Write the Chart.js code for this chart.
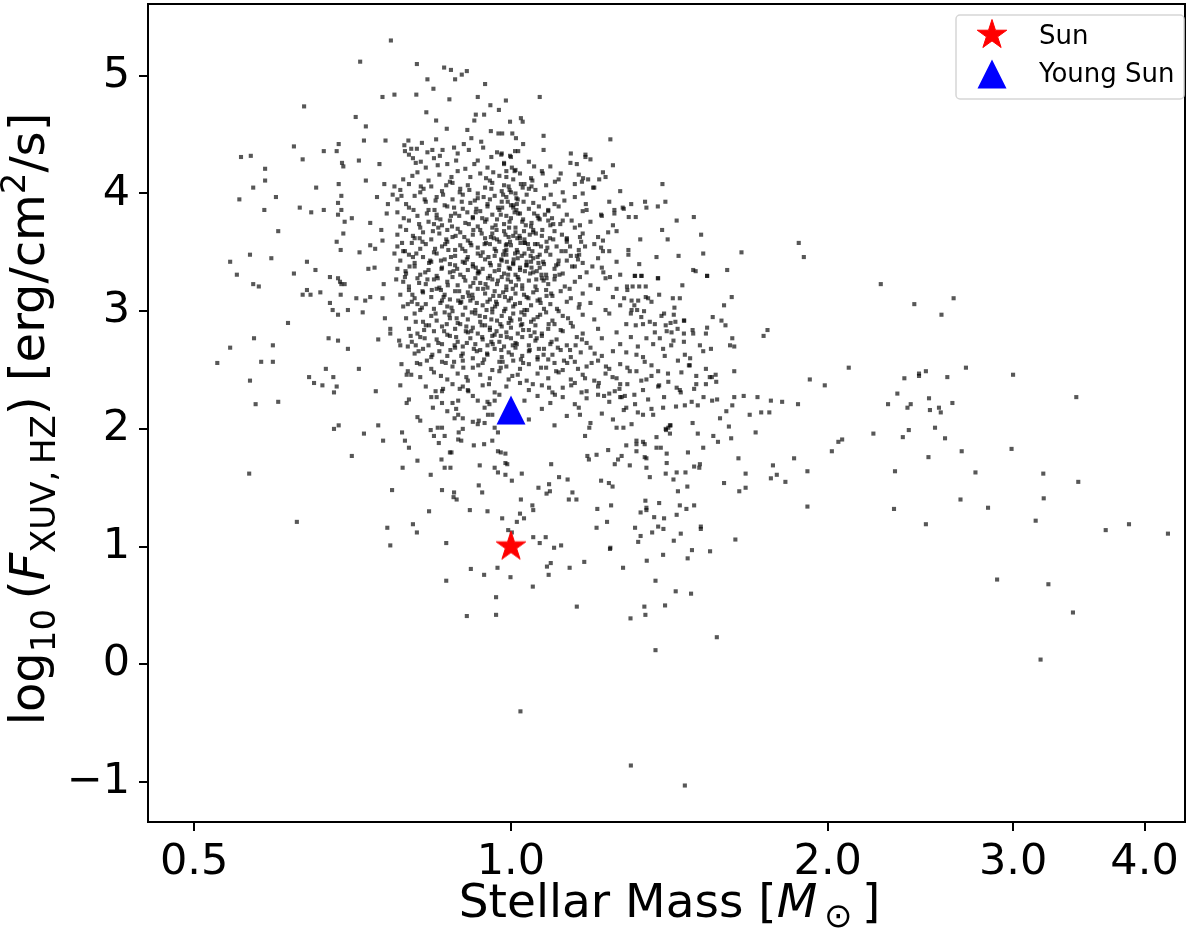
<!DOCTYPE html>
<html>
<head>
<meta charset="utf-8">
<script src="https://cdn.jsdelivr.net/npm/chart.js@4.4.1/dist/chart.umd.min.js"></script>
<style>
  html, body { margin: 0; padding: 0; background: #fff; }
  #wrap { width: 1200px; height: 937px; }
</style>
</head>
<body>
<div id="wrap"><canvas id="chart" width="1200" height="937"></canvas></div>
<script>
'use strict';

// ── Data ─────────────────────────────────────────────────────────────
// [stellar mass (Msun), log10 F_XUV,HZ]

const xTickValues = [0.5, 1, 2, 3, 4];
const yTickValues = [-1, 0, 1, 2, 3, 4, 5];
const seriesLabels = ['Sun', 'Young Sun'];

const sunPoint = [1.0, 1.0];
const youngSunPoint = [1.0, 2.16];

// outskirts, read point by point
const haloStars = [
	[0.769,5.30],[0.719,5.12],[0.814,5.10],[0.864,5.07],[0.877,5.05],[0.898,5.01],[0.908,5.04],[0.885,4.97],[0.833,4.97],[0.844,4.89],
	[0.945,4.93],[0.755,4.82],[0.775,4.84],[0.813,4.84],[0.874,4.80],[0.930,4.82],[0.989,4.79],[0.636,4.74],[0.712,4.65],[0.728,4.57],
	[0.831,4.69],[0.849,4.62],[0.926,4.67],[0.943,4.67],[0.956,4.75],[0.974,4.71],[0.923,4.62],[0.869,4.55],[0.909,4.54],[0.957,4.53],
	[0.973,4.51],[0.725,4.45],[0.760,4.45],[0.799,4.45],[0.849,4.46],[0.917,4.47],[0.937,4.44],[0.622,4.40],[0.554,4.31],[0.566,4.32],
	[0.634,4.29],[0.664,4.36],[0.683,4.36],[0.686,4.42],[0.717,4.28],[0.750,4.25],[0.691,4.26],[0.693,4.23],[0.793,4.36],[0.804,4.38],
	[0.814,4.38],[0.833,4.35],[0.807,4.30],[0.821,4.27],[0.856,4.32],[0.883,4.39],[0.912,4.37],[0.958,4.31],[0.979,4.33],[0.584,4.21],
	[0.584,4.11],[0.569,4.05],[0.552,3.95],[0.598,3.97],[0.583,3.86],[0.601,3.68],[0.653,4.05],[0.686,4.08],[0.690,3.98],[0.685,3.92],
	[0.630,3.88],[0.646,3.84],[0.664,3.86],[0.690,3.86],[0.685,3.82],[0.695,3.76],[0.706,3.79],[0.693,3.66],[0.683,3.59],[0.689,3.52],
	[0.718,3.50],[0.728,4.11],[0.746,3.97],[0.758,4.08],[0.775,4.06],[0.772,3.99],[0.764,3.91],[0.762,3.83],[0.735,3.75],[0.753,3.69],
	[0.755,3.60],[0.735,3.56],[0.743,3.53],[0.541,3.42],[0.565,3.48],[0.592,3.45],[0.640,3.42],[0.652,3.35],[0.549,3.31],[0.622,3.32],
	[0.732,3.36],[0.742,3.37],[0.775,3.49],[0.793,3.51],[0.794,3.34],[0.778,3.27],
	[1.065,4.82],[0.998,4.61],[1.022,4.64],[1.026,4.61],[0.981,4.51],[1.003,4.51],[1.011,4.47],[1.027,4.42],[1.074,4.49],[1.074,4.37],
	[1.243,4.46],[0.980,4.34],[0.998,4.32],[1.009,4.36],[1.016,4.36],[0.985,4.25],[1.002,4.22],[1.008,4.19],[0.990,4.14],[0.985,4.07],
	[1.000,4.01],[0.993,3.93],[1.005,3.90],[1.012,3.96],[1.052,4.23],[1.072,4.17],[1.115,4.17],[1.101,4.10],[1.048,4.11],[1.022,4.08],
	[1.026,4.05],[1.040,4.04],[1.139,4.26],[1.155,4.25],[1.177,4.33],[1.177,4.31],[1.223,4.18],[1.171,4.13],[1.184,4.12],[1.168,4.10],
	[1.150,4.08],[1.213,4.12],[1.197,4.05],[1.170,4.00],[1.178,3.91],[1.170,3.85],[1.085,3.86],[1.393,4.08],[1.341,3.93],[1.345,3.88],
	[1.301,3.91],[1.277,3.88],[1.254,3.86],[1.254,3.83],[1.379,3.89],[1.402,3.93],[1.294,3.80],[1.314,3.80],[1.218,3.82],[1.437,3.77],
	[1.492,3.80],[1.392,3.69],[1.516,3.65],[1.409,3.61],[1.327,3.61],[1.237,3.67],[1.223,3.60],[1.218,3.54],[1.223,3.51],[1.293,3.52],
	[1.293,3.48],[1.375,3.46],[1.443,3.47],[1.523,3.49],[1.656,3.50],[1.877,3.58],[1.898,3.46],[1.605,3.35],[1.490,3.35],[1.498,3.34],
	[1.536,3.30],[1.324,3.40],[1.312,3.30],[1.331,3.30],[1.380,3.28],[1.195,3.38],[1.224,3.33],[1.242,3.29],[1.161,3.48],[1.143,3.38],
	[1.166,3.59],[1.163,3.63],[1.176,3.55],[1.163,3.73],[1.114,3.74],[1.097,3.74],[1.085,3.77],[1.077,3.82],[1.062,3.79],[1.046,3.75],
	[1.027,3.78],[1.016,3.83],[1.117,3.51],[1.130,3.61],[1.138,3.55],[1.130,3.43],[1.109,3.40],[1.073,3.42],[1.089,3.62],[1.081,3.59],
	[1.097,3.61],[1.155,3.47],[1.050,3.67],[1.056,3.66],[1.042,3.65],[1.031,3.58],[1.038,3.57],[1.054,3.57],[1.020,3.62],[1.005,3.64],
	[0.998,3.59],[0.991,3.57],[1.013,3.52],[1.024,3.47],[1.035,3.42],[1.046,3.37],[1.058,3.34],[1.020,3.37],[1.005,3.40],[0.991,3.42],
	[0.983,3.48],[1.069,3.31],[1.081,3.28],[1.101,3.30],[1.050,3.45],[1.065,3.48],
	[0.569,3.23],[0.576,3.21],[0.634,3.14],[0.645,3.14],[0.640,3.18],[0.659,3.16],[0.673,3.29],[0.685,3.28],[0.690,3.23],[0.695,3.23],
	[0.688,3.25],[0.689,3.14],[0.673,3.07],[0.677,3.01],[0.685,2.97],[0.700,3.01],[0.713,3.11],[0.727,3.09],[0.735,3.12],[0.723,2.99],
	[0.757,3.23],[0.755,3.11],[0.759,2.94],[0.614,2.90],[0.570,2.77],[0.541,2.69],[0.594,2.71],[0.526,2.56],[0.579,2.57],[0.594,2.57],
	[0.565,2.41],[0.572,2.21],[0.601,2.23],[0.564,1.62],[0.626,1.21],[0.671,2.77],[0.685,2.75],[0.700,2.68],[0.748,2.76],[0.667,2.51],
	[0.643,2.44],[0.650,2.39],[0.662,2.37],[0.678,2.44],[0.683,2.36],[0.679,2.31],[0.717,2.51],[0.744,2.32],[0.679,2.00],[0.686,2.03],
	[0.706,1.77],[0.725,1.96],[0.748,2.03],[0.756,1.90],[0.768,2.85],[0.768,2.81],[0.783,2.75],[0.785,2.71],[0.798,2.70],[0.785,2.37],
	[0.787,2.55],[0.798,2.49],[0.796,2.46],[0.804,2.46],[0.814,2.56],[0.800,2.25],[0.796,2.22],[0.815,2.10],[0.820,2.07],[0.788,1.97],
	[0.793,1.90],[0.800,1.84],[0.815,1.73],[0.789,1.67],[0.839,1.61],[0.771,1.48],[0.763,1.16],[0.768,1.01],[0.807,1.19],[0.814,1.12],
	[0.836,1.30],[0.860,1.48],[0.883,1.46],[0.888,1.40],[0.882,1.42],[0.868,1.03],[0.914,1.31],[0.950,1.30],[0.932,1.52],[0.939,1.46],
	[0.934,1.69],[0.965,1.67],[0.972,1.63],[0.988,1.61],[0.981,1.24],[0.859,1.74],[0.865,1.67],[0.876,1.67],[0.875,1.80],[0.878,1.80],
	[0.839,1.99],[0.852,2.01],[0.860,2.01],[0.845,1.94],[0.854,1.88],[0.865,1.94],[0.892,1.97],[0.900,2.00],[0.897,1.90],[0.891,1.91],
	[0.922,1.86],[0.943,1.87],[0.960,1.90],[0.965,2.01],[0.972,1.97],[0.978,1.80],[0.972,1.81],[0.988,1.79],[0.988,1.71],[0.884,2.09],
	[0.891,2.12],[0.900,2.09],[0.887,2.17],[0.932,2.07],[0.930,2.04],[0.944,2.05],[0.951,2.12],[0.944,2.18],[0.954,2.21],[0.930,2.24],
	[0.965,2.24],[0.840,2.27],[0.848,2.32],[0.862,2.34],[0.860,2.22],[0.843,2.18],[0.894,2.34],[0.891,2.24],[0.900,2.36],[0.911,2.32],
	[1.455,3.22],[1.536,3.30],[1.379,3.28],[1.311,3.30],[1.330,3.30],[1.383,3.14],[1.425,3.11],[1.447,3.11],[1.621,3.12],[1.594,3.05],
	[1.555,2.95],[1.585,2.92],[1.599,2.88],[1.623,2.77],[1.615,2.71],[1.630,2.70],[1.549,2.68],[1.512,2.71],[1.523,2.66],[1.532,2.81],
	[1.536,2.86],[1.488,2.84],[1.490,2.81],[1.460,2.92],[1.460,2.81],[1.753,2.84],[1.738,2.79],[2.094,2.52],[1.923,2.42],[1.987,2.37],
	[1.630,2.49],[1.532,2.51],[1.565,2.46],[1.552,2.44],[1.545,2.44],[1.479,2.54],[1.452,2.48],[1.493,2.34],[1.500,2.38],[1.532,2.38],
	[1.567,2.40],[1.437,2.35],[1.447,2.33],[1.398,2.27],[1.435,2.19],[1.463,2.20],[1.485,2.23],[1.505,2.20],[1.524,2.27],[1.553,2.24],
	[1.570,2.25],[1.602,2.15],[1.630,2.27],[1.664,2.28],[1.715,2.27],[1.766,2.24],[1.810,2.23],[1.874,2.21],[1.623,2.20],[1.686,2.12],
	[1.729,2.14],[1.760,2.14],[1.580,2.09],[1.611,2.02],[1.619,1.92],[1.708,1.97],[1.557,1.94],[1.573,1.89],[1.505,1.96],[1.488,2.05],
	[1.523,1.84],[1.473,1.80],[2.064,1.91],[2.047,1.89],[2.018,1.81],[1.858,1.75],[1.774,1.69],[1.789,1.61],[1.766,1.58],[1.823,1.55],
	[1.913,1.64],[1.645,1.75],[1.671,1.62],[1.671,1.50],[1.648,1.47],[1.594,1.54],[1.913,1.34],[1.634,1.06],[1.493,1.68],[1.510,1.67],
	[1.512,1.70],[1.471,1.51],[1.441,1.47],[1.493,1.35],[1.468,1.32],[1.447,1.35],[1.403,1.62],[1.427,1.57],[1.437,1.63],[1.465,1.63],
	[1.515,1.17],[1.515,1.15],[1.450,1.11],[1.428,1.05],[1.437,1.27],[1.383,1.37],[1.368,1.25],[1.398,1.24],[1.380,1.17],[1.396,1.15],
	[1.362,1.12],[1.342,1.39],[1.345,1.33],[1.345,1.31],[1.328,1.29],[1.312,1.16],[1.328,1.09],[1.321,1.04],[1.243,0.99],[1.206,1.16],
	[1.234,1.21],[1.208,1.32],[1.245,1.35],[1.144,1.46],[1.154,1.40],[1.135,1.40],[1.218,1.56],[1.239,1.54],[1.249,1.51],[1.092,1.70],
	[1.111,1.59],[1.132,1.57],[1.087,1.53],[1.089,1.47],[1.081,1.45],[1.062,1.50],[1.048,1.35],[1.050,1.31],[1.022,1.40],[1.020,1.28],
	[1.029,1.24],[1.013,1.21],[0.994,1.14],[1.002,1.12],[1.050,1.08],[1.065,1.03],[1.079,1.08],[1.099,0.99],[1.116,1.01],[1.024,1.62],
	[1.002,1.56],[0.992,1.70],[1.163,2.12],[1.187,2.01],[1.176,1.94],[1.182,1.77],[1.186,1.74],[1.206,1.78],[1.237,1.82],[1.255,1.70],
	[1.264,1.74],[1.274,1.77],[1.297,1.69],[1.316,1.87],[1.335,1.89],[1.340,1.76],[1.345,1.67],[1.355,1.59],[1.375,1.84],[1.388,1.84],
	[1.406,1.79],[1.406,1.71],[1.411,2.01],[1.416,1.96],[1.418,2.03],[1.404,1.99],[1.289,3.21],[1.305,3.21],[1.324,3.21],[1.343,3.21],
	[1.260,3.19],[1.281,3.11],[1.302,3.09],[1.321,3.09],[1.343,3.12],[1.360,3.08],[1.302,3.01],[1.318,3.01],[1.338,3.00],[1.398,2.98],
	[1.428,2.97],[1.433,2.91],[1.461,2.92],[1.287,2.89],[1.314,2.88],[1.335,2.89],[1.355,2.91],[1.370,2.89],[1.403,2.88],[1.418,2.90],
	[1.406,2.83],[1.421,2.82],[1.345,2.77],[1.365,2.72],[1.385,2.77],[1.395,2.68],[1.427,2.75],[1.463,2.63],[1.476,2.54],[1.441,2.58],
	[1.287,2.65],[1.316,2.63],[1.335,2.61],[1.360,2.54],[1.380,2.49],[1.411,2.40],[1.383,2.37],[1.316,2.49],[1.345,2.42],[1.297,2.49],
	[1.335,2.33],[1.255,2.32],[1.274,2.27],[1.283,2.28],[1.287,2.18],[1.312,2.21],[1.335,2.12],[1.365,2.12],[1.395,2.18],[1.416,2.03],
	[1.403,2.00],[1.279,2.01],[1.302,2.04],[1.260,2.01],[1.316,1.90],[1.340,1.87],[1.345,1.75],[1.375,1.93],[1.316,1.81],[1.287,1.86],
	[2.246,3.23],[2.417,3.06],[2.634,3.11],[2.565,2.97],[2.442,2.47],[2.442,2.45],[2.479,2.49],[2.365,2.43],[2.598,2.44],[2.706,2.52],
	[3.000,2.46],[3.445,2.27],[2.329,2.30],[2.282,2.21],[2.398,2.21],[2.381,2.18],[2.496,2.26],[2.501,2.16],[2.551,2.18],[2.561,2.14],
	[2.627,2.22],[2.529,2.01],[2.388,1.99],[2.357,1.93],[2.210,1.96],[2.585,1.92],[2.681,1.81],[2.990,1.83],[2.493,1.76],[2.317,1.64],
	[2.763,1.63],[3.205,1.62],[3.460,1.55],[3.208,1.41],[2.674,1.40],[2.840,1.33],[2.312,1.32],[2.479,1.19],[3.152,1.22],[3.674,1.14],
	[3.866,1.19],[4.210,1.11],[2.897,0.72],[3.241,0.68],[3.420,0.44],[3.186,0.04],
	[0.916,0.81],[0.943,0.76],[0.971,0.82],[0.868,0.71],[0.968,0.57],[0.908,0.41],[0.968,0.42],
	[1.242,0.98],[1.486,0.97],[1.546,0.96],[1.472,0.90],[1.395,0.93],[1.346,0.88],[1.278,0.82],[1.174,0.87],[1.137,0.82],[1.091,0.86],
	[1.082,0.83],[1.086,0.76],[0.999,0.74],[1.049,0.66],[1.372,0.71],[1.434,0.62],[1.483,0.60],[1.155,0.49],[1.339,0.49],[1.342,0.42],
	[1.299,0.39],[1.401,0.50],[1.569,0.23],[1.372,0.12],[1.021,-0.40],[1.300,-0.86],[1.463,-1.03],
];

// dense middle of the cloud
const coreStars = [
	[0.80,4.33],[0.83,4.22],[0.845,4.30],[0.87,4.25],[0.89,4.34],[0.905,4.21],[0.93,4.28],[0.95,4.22],[0.97,4.35],[0.985,4.26],
	[1.00,4.31],[1.01,4.20],[1.04,4.27],[1.09,4.23],[1.14,4.34],[1.19,4.29],[1.25,4.24],
	[0.79,4.12],[0.815,4.18],[0.835,4.11],[0.855,4.16],[0.875,4.10],[0.89,4.19],[0.915,4.14],[0.935,4.17],[0.955,4.11],[0.975,4.15],
	[0.99,4.19],[1.005,4.12],[1.02,4.17],[1.045,4.13],[1.07,4.19],[1.11,4.12],[1.16,4.16],[1.23,4.14],
	[0.785,4.03],[0.80,4.08],[0.82,4.01],[0.84,4.06],[0.86,4.02],[0.88,4.09],[0.895,4.04],[0.91,4.07],[0.93,4.00],[0.945,4.05],
	[0.96,4.09],[0.98,4.02],[0.995,4.06],[1.01,4.00],[1.03,4.08],[1.055,4.03],[1.08,4.07],[1.12,4.01],[1.20,4.05],[1.27,4.02],
	[0.78,3.95],[0.795,3.91],[0.81,3.98],[0.83,3.93],[0.85,3.97],[0.865,3.90],[0.88,3.95],[0.90,3.99],[0.915,3.92],[0.93,3.96],
	[0.95,3.91],[0.965,3.98],[0.98,3.93],[0.99,3.97],[1.00,3.90],[1.015,3.95],[1.035,3.99],[1.05,3.92],[1.075,3.96],[1.10,3.91],
	[1.15,3.97],[1.24,3.93],
	[0.78,3.84],[0.80,3.88],[0.815,3.81],[0.835,3.86],[0.85,3.82],[0.87,3.89],[0.885,3.83],[0.90,3.87],[0.92,3.80],[0.935,3.85],
	[0.95,3.89],[0.96,3.82],[0.975,3.86],[0.99,3.81],[1.005,3.88],[1.02,3.83],[1.04,3.87],[1.06,3.81],[1.085,3.85],[1.11,3.89],
	[1.13,3.82],[1.18,3.86],[1.22,3.81],[1.28,3.87],
	[0.785,3.72],[0.80,3.77],[0.82,3.71],[0.835,3.76],[0.85,3.79],[0.86,3.73],[0.875,3.77],[0.89,3.70],[0.905,3.75],[0.92,3.79],
	[0.93,3.72],[0.945,3.76],[0.96,3.71],[0.97,3.78],[0.985,3.74],[1.00,3.79],[1.01,3.71],[1.025,3.76],[1.045,3.72],[1.065,3.78],
	[1.09,3.73],[1.12,3.77],[1.15,3.71],[1.19,3.76],[1.25,3.73],
	[0.78,3.65],[0.795,3.69],[0.81,3.62],[0.825,3.67],[0.84,3.61],[0.855,3.66],[0.87,3.69],[0.88,3.63],[0.895,3.67],[0.91,3.60],
	[0.92,3.65],[0.935,3.69],[0.945,3.62],[0.96,3.66],[0.97,3.61],[0.985,3.68],[0.995,3.63],[1.01,3.67],[1.03,3.61],[1.05,3.69],
	[1.07,3.64],[1.10,3.68],[1.13,3.62],[1.17,3.66],[1.21,3.63],[1.26,3.68],
	[0.78,3.55],[0.79,3.51],[0.805,3.58],[0.82,3.53],[0.83,3.57],[0.845,3.50],[0.86,3.55],[0.87,3.59],[0.885,3.52],[0.895,3.56],
	[0.905,3.51],[0.915,3.58],[0.93,3.54],[0.94,3.50],[0.955,3.57],[0.965,3.53],[0.975,3.59],[0.99,3.52],[1.00,3.56],[1.015,3.50],
	[1.03,3.58],[1.04,3.53],[1.06,3.57],[1.08,3.51],[1.105,3.55],[1.13,3.59],[1.16,3.52],[1.20,3.57],[1.24,3.51],
	[0.785,3.43],[0.80,3.48],[0.81,3.41],[0.825,3.46],[0.84,3.42],[0.85,3.49],[0.865,3.44],[0.875,3.40],[0.885,3.47],[0.90,3.42],
	[0.91,3.46],[0.92,3.40],[0.93,3.49],[0.945,3.44],[0.955,3.41],[0.965,3.47],[0.98,3.43],[0.99,3.48],[1.005,3.41],[1.015,3.45],
	[1.03,3.49],[1.045,3.42],[1.06,3.46],[1.075,3.40],[1.09,3.48],[1.11,3.43],[1.14,3.47],[1.17,3.41],[1.21,3.45],[1.26,3.42],
	[0.78,3.36],[0.795,3.32],[0.81,3.38],[0.82,3.31],[0.835,3.35],[0.85,3.30],[0.86,3.37],[0.875,3.33],[0.885,3.39],[0.895,3.31],
	[0.91,3.35],[0.92,3.38],[0.93,3.32],[0.94,3.36],[0.955,3.30],[0.965,3.34],[0.975,3.39],[0.985,3.32],[0.995,3.37],[1.01,3.31],
	[1.02,3.35],[1.035,3.39],[1.05,3.33],[1.065,3.37],[1.08,3.31],[1.10,3.36],[1.12,3.32],[1.15,3.38],[1.18,3.33],[1.22,3.37],
	[1.27,3.31],
	[0.79,3.25],[0.80,3.21],[0.815,3.28],[0.83,3.23],[0.845,3.27],[0.855,3.20],[0.87,3.25],[0.88,3.29],[0.89,3.22],[0.905,3.26],
	[0.915,3.21],[0.925,3.28],[0.935,3.24],[0.95,3.20],[0.96,3.27],[0.97,3.23],[0.98,3.29],[0.99,3.21],[1.00,3.25],[1.015,3.29],
	[1.025,3.22],[1.04,3.26],[1.055,3.21],[1.07,3.28],[1.085,3.23],[1.10,3.27],[1.125,3.21],[1.15,3.25],[1.19,3.22],[1.23,3.28],
	[0.785,3.14],[0.80,3.18],[0.81,3.11],[0.825,3.16],[0.84,3.12],[0.85,3.19],[0.865,3.14],[0.875,3.10],[0.885,3.17],[0.90,3.12],
	[0.91,3.16],[0.92,3.11],[0.93,3.19],[0.945,3.15],[0.955,3.10],[0.965,3.17],[0.975,3.13],[0.99,3.18],[1.00,3.11],[1.01,3.15],
	[1.025,3.19],[1.035,3.12],[1.05,3.16],[1.065,3.10],[1.08,3.18],[1.095,3.13],[1.115,3.17],[1.14,3.11],[1.17,3.15],[1.21,3.19],
	[1.25,3.12],
	[0.79,3.04],[0.805,3.08],[0.82,3.01],[0.83,3.06],[0.845,3.02],[0.86,3.09],[0.87,3.04],[0.88,3.00],[0.895,3.07],[0.905,3.03],
	[0.915,3.09],[0.925,3.01],[0.94,3.05],[0.95,3.08],[0.96,3.02],[0.97,3.06],[0.985,3.00],[0.995,3.09],[1.005,3.04],[1.02,3.07],
	[1.03,3.01],[1.045,3.05],[1.06,3.09],[1.075,3.02],[1.09,3.06],[1.11,3.00],[1.13,3.08],[1.16,3.03],[1.19,3.07],[1.23,3.01],
	[1.27,3.05],
	[0.795,2.94],[0.81,2.98],[0.825,2.91],[0.84,2.96],[0.85,2.92],[0.865,2.99],[0.875,2.94],[0.89,2.90],[0.90,2.97],[0.91,2.93],
	[0.925,2.98],[0.935,2.91],[0.945,2.95],[0.96,2.99],[0.97,2.92],[0.98,2.96],[0.995,2.90],[1.005,2.98],[1.02,2.93],[1.03,2.97],
	[1.045,2.91],[1.06,2.95],[1.08,2.99],[1.095,2.92],[1.12,2.96],[1.14,2.90],[1.17,2.97],[1.20,2.93],[1.24,2.98],
	[0.80,2.85],[0.815,2.81],[0.83,2.88],[0.845,2.83],[0.86,2.87],[0.87,2.80],[0.885,2.85],[0.895,2.89],[0.91,2.82],[0.92,2.86],
	[0.93,2.81],[0.945,2.88],[0.955,2.84],[0.965,2.80],[0.98,2.87],[0.99,2.82],[1.00,2.86],[1.015,2.81],[1.025,2.89],[1.04,2.84],
	[1.055,2.88],[1.07,2.81],[1.085,2.85],[1.10,2.89],[1.12,2.83],[1.145,2.87],[1.17,2.81],[1.21,2.85],[1.26,2.82],
	[0.805,2.74],[0.82,2.78],[0.835,2.71],[0.85,2.76],[0.86,2.72],[0.875,2.79],[0.89,2.74],[0.90,2.70],[0.915,2.77],[0.925,2.72],
	[0.94,2.76],[0.95,2.71],[0.96,2.79],[0.975,2.74],[0.985,2.70],[1.00,2.77],[1.01,2.73],[1.025,2.78],[1.04,2.71],[1.055,2.75],
	[1.07,2.79],[1.09,2.72],[1.105,2.76],[1.13,2.71],[1.155,2.78],[1.18,2.73],[1.22,2.77],[1.27,2.72],
	[0.81,2.64],[0.825,2.68],[0.84,2.61],[0.855,2.66],[0.87,2.62],[0.885,2.69],[0.90,2.64],[0.92,2.60],[0.935,2.67],[0.95,2.63],
	[0.965,2.68],[0.98,2.61],[0.995,2.65],[1.01,2.69],[1.025,2.62],[1.04,2.66],[1.06,2.61],[1.075,2.68],[1.095,2.63],[1.115,2.67],
	[1.14,2.61],[1.165,2.65],[1.19,2.69],[1.22,2.62],[1.25,2.66],
	[0.82,2.55],[0.84,2.51],[0.86,2.57],[0.88,2.53],[0.90,2.58],[0.92,2.52],[0.94,2.56],[0.96,2.50],[0.975,2.57],[0.99,2.53],
	[1.005,2.58],[1.02,2.51],[1.04,2.55],[1.06,2.59],[1.08,2.52],[1.10,2.56],[1.12,2.50],[1.15,2.57],[1.18,2.53],[1.21,2.58],
	[1.24,2.51],[1.27,2.55],
	[0.82,2.44],[0.845,2.48],[0.87,2.42],[0.89,2.47],[0.91,2.41],[0.935,2.46],[0.955,2.43],[0.975,2.49],[0.995,2.42],[1.015,2.46],
	[1.035,2.41],[1.06,2.47],[1.085,2.43],[1.11,2.48],[1.14,2.42],[1.17,2.46],[1.20,2.41],[1.23,2.47],[1.26,2.43],
	[0.83,2.36],[0.86,2.32],[0.88,2.38],[0.91,2.33],[0.94,2.37],[0.965,2.31],[0.99,2.36],[1.02,2.39],[1.04,2.33],[1.07,2.37],
	[1.095,2.31],[1.12,2.35],[1.15,2.39],[1.18,2.32],[1.21,2.36],[1.24,2.30],[1.27,2.38],
	[0.85,2.27],[0.88,2.22],[0.92,2.28],[0.95,2.23],[0.975,2.29],[1.03,2.24],[1.06,2.28],[1.09,2.22],[1.12,2.27],[1.15,2.21],
	[1.18,2.26],[1.21,2.29],[1.24,2.23],[1.27,2.27],
	[0.87,2.15],[0.92,2.06],[0.96,2.12],[1.04,2.08],[1.07,2.17],[1.10,2.03],[1.13,2.11],[1.16,2.18],[1.19,2.05],[1.22,2.13],
	[1.25,2.08],[1.28,2.16],
];

// second pass over the densest part, between the rows above
const coreInfill = [
	[0.792,4.41],[0.823,4.43],[0.861,4.37],[0.902,4.42],[0.941,4.39],[0.821,4.06],[0.852,4.24],[0.878,4.14],[0.923,4.25],[0.962,4.18],
	[0.812,4.26],[0.887,4.28],[0.947,4.13],[0.806,4.15],[0.842,4.37],
	[0.787,3.98],[0.808,3.86],[0.826,4.04],[0.848,3.94],[0.868,4.07],[0.883,3.88],[0.898,3.93],[0.913,4.03],[0.927,3.87],[0.942,3.97],
	[0.958,4.04],[0.972,3.88],[0.983,3.99],[0.997,4.03],[1.012,3.86],[1.028,3.93],[1.046,4.06],[1.063,3.89],[1.091,3.99],[1.124,3.94],
	[0.791,3.79],[0.807,3.64],[0.818,3.74],[0.832,3.83],[0.843,3.68],[0.857,3.78],[0.868,3.61],[0.879,3.72],[0.893,3.81],[0.903,3.63],
	[0.912,3.74],[0.926,3.84],[0.938,3.66],[0.948,3.78],[0.957,3.63],[0.967,3.73],[0.978,3.82],[0.988,3.65],[0.997,3.76],[1.008,3.84],
	[1.019,3.64],[1.033,3.73],[1.052,3.83],[1.071,3.69],[1.094,3.79],[1.118,3.65],[1.142,3.77],
	[0.788,3.58],[0.801,3.38],[0.813,3.49],[0.824,3.59],[0.836,3.41],[0.847,3.53],[0.858,3.43],[0.866,3.57],[0.877,3.46],[0.889,3.36],
	[0.899,3.53],[0.908,3.44],[0.917,3.56],[0.926,3.37],[0.936,3.47],[0.947,3.58],[0.957,3.39],[0.968,3.51],[0.979,3.44],[0.989,3.56],
	[0.998,3.36],[1.009,3.49],[1.021,3.58],[1.034,3.39],[1.048,3.51],[1.062,3.41],[1.083,3.54],[1.104,3.39],[1.127,3.51],[1.158,3.44],
	[0.793,3.29],[0.806,3.14],[0.818,3.24],[0.829,3.33],[0.841,3.18],[0.852,3.28],[0.863,3.12],[0.871,3.22],[0.882,3.34],[0.893,3.17],
	[0.902,3.29],[0.912,3.13],[0.921,3.24],[0.931,3.34],[0.941,3.19],[0.951,3.28],[0.962,3.13],[0.972,3.26],[0.983,3.16],[0.994,3.31],
	[1.004,3.19],[1.017,3.27],[1.029,3.14],[1.043,3.32],[1.058,3.18],[1.074,3.26],[1.092,3.15],[1.112,3.31],[1.137,3.19],[1.163,3.29],
	[0.798,3.06],[0.812,2.91],[0.823,3.03],[0.836,2.88],[0.848,2.98],[0.857,3.07],[0.869,2.89],[0.878,3.03],[0.888,2.94],[0.897,3.08],
	[0.907,2.87],[0.918,2.99],[0.928,3.07],[0.938,2.88],[0.948,3.01],[0.958,2.93],[0.968,3.08],[0.977,2.89],[0.988,3.02],[0.998,2.94],
	[1.009,3.06],[1.022,2.88],[1.036,3.01],[1.051,2.93],[1.067,3.07],[1.086,2.89],[1.106,3.02],[1.133,2.94],[1.162,3.06],
	[0.803,2.79],[0.817,2.66],[0.828,2.77],[0.842,2.63],[0.853,2.73],[0.864,2.83],[0.876,2.67],[0.887,2.78],[0.897,2.62],[0.908,2.73],
	[0.917,2.83],[0.928,2.66],[0.939,2.78],[0.949,2.64],[0.958,2.74],[0.969,2.83],[0.979,2.67],[0.991,2.78],[1.002,2.63],[1.013,2.72],
	[1.027,2.84],[1.042,2.67],[1.058,2.77],[1.074,2.63],[1.093,2.74],[1.115,2.84],[1.138,2.67],[1.168,2.76],[1.201,2.64],
	[0.832,2.58],[0.858,2.45],[0.883,2.57],[0.907,2.44],[0.931,2.54],[0.953,2.38],[0.978,2.52],[1.003,2.45],[1.027,2.56],[1.049,2.38],
	[1.068,2.52],[1.087,2.35],[1.104,2.49],[1.123,2.58],[1.141,2.37],[1.158,2.51],[1.176,2.43],[1.193,2.56],[1.212,2.39],[1.231,2.53],
	[1.249,2.44],[1.268,2.34],[1.101,2.29],[1.167,2.31],[1.226,2.28],
	[0.853,3.71],[0.872,3.52],[0.886,3.64],[0.904,3.41],[0.921,3.69],[0.933,3.33],[0.944,3.57],[0.952,3.46],[0.963,3.62],[0.974,3.35],
	[0.986,3.51],[0.993,3.27],[1.006,3.44],[1.014,3.62],[1.031,3.34],[1.044,3.47],[1.057,3.27],[1.068,3.55],
	[0.858,3.18],[0.874,2.97],[0.891,3.09],[0.906,2.83],[0.919,3.14],[0.934,2.96],[0.946,3.23],[0.955,2.86],[0.966,3.04],[0.978,2.79],
	[0.987,3.12],[1.001,2.92],[1.011,3.22],[1.023,2.99],[1.039,3.11],[1.053,2.82],[1.066,2.97],[1.081,3.13],
	[0.867,2.56],[0.884,2.71],[0.901,2.52],[0.922,2.68],[0.943,2.59],[0.961,2.72],[0.982,2.57],[1.004,2.71],[1.022,2.59],[1.044,2.79],
	[1.063,2.68],[1.085,2.59],[1.108,2.69],[1.131,2.56],[1.152,2.71],
	[0.828,3.95],[0.846,3.86],[0.862,3.99],[0.877,3.81],[0.894,4.01],[0.909,3.84],[0.924,3.94],[0.939,3.79],[0.955,3.95],[0.969,3.69],
	[0.981,3.88],[0.996,3.71],[1.013,3.91],[1.029,3.68],
	[0.807,3.46],[0.819,3.62],[0.833,3.27],[0.845,3.74],[0.859,3.36],[0.815,3.06],[0.827,2.84],[0.838,3.43],[0.812,2.71],[0.824,3.17],
];

// right flank of the cloud, medium density
const flankStars = [
	[1.29,3.18],[1.31,3.05],[1.33,2.95],[1.30,2.78],[1.32,2.70],[1.34,2.57],[1.36,2.45],[1.29,2.38],[1.31,2.29],[1.35,2.25],
	[1.38,2.36],[1.40,2.62],[1.42,2.71],[1.37,2.82],[1.39,2.96],[1.44,2.85],[1.46,2.74],[1.48,2.60],[1.50,2.45],[1.45,2.31],
	[1.29,2.52],[1.33,2.41],[1.36,2.17],[1.41,2.47],[1.30,2.98],[1.35,3.11],[1.43,3.03],[1.32,2.14],
];

// ── Helpers ──────────────────────────────────────────────────────────

const FONT = '"DejaVu Sans", Verdana, sans-serif';

function toPoint( p ) {
	return { x: p[ 0 ], y: p[ 1 ] };
}

function makeStarImage( size, color ) {
	const c = document.createElement( 'canvas' );
	c.width = size;
	c.height = size;
	const g = c.getContext( '2d' );
	const cx = size / 2, cy = size / 2;
	const outer = size / 2 - 0.5, inner = outer * 0.382;
	g.beginPath();
	for ( let i = 0; i < 10; i++ ) {
		const r = i % 2 === 0 ? outer : inner;
		const a = -Math.PI / 2 + i * Math.PI / 5;
		const px = cx + r * Math.cos( a ), py = cy + r * Math.sin( a );
		i === 0 ? g.moveTo( px, py ) : g.lineTo( px, py );
	}
	g.closePath();
	g.fillStyle = color;
	g.strokeStyle = color;
	g.lineJoin = 'round';
	g.lineWidth = 1;
	g.fill();
	g.stroke();
	return c;
}

function makeTriangleImage( size, color ) {
	const c = document.createElement( 'canvas' );
	c.width = size;
	c.height = size;
	const g = c.getContext( '2d' );
	g.beginPath();
	g.moveTo( size / 2, 0.5 );
	g.lineTo( size - 0.5, size - 0.5 );
	g.lineTo( 0.5, size - 0.5 );
	g.closePath();
	g.fillStyle = color;
	g.fill();
	return c;
}

// text made of pieces with their own size / shift / style, centred on 0
function drawRich( ctx, parts, size ) {
	let total = 0;
	parts.forEach( function ( p ) {
		ctx.font = ( p.it ? 'italic ' : '' ) + Math.round( size * ( p.s || 1 ) ) + 'px ' + FONT;
		p.w = ctx.measureText( p.t ).width;
		total += p.w;
	} );
	let x = -total / 2;
	parts.forEach( function ( p ) {
		ctx.font = ( p.it ? 'italic ' : '' ) + Math.round( size * ( p.s || 1 ) ) + 'px ' + FONT;
		ctx.fillText( p.t, x, ( p.dy || 0 ) * size );
		x += p.w;
	} );
}

const starImg = makeStarImage( 32, '#ff0000' );
const triImg = makeTriangleImage( 30, '#0000ff' );

// ── Plugins ──────────────────────────────────────────────────────────

const decorPlugin = {
	id: 'decor',
	afterDraw: function ( chart ) {
		const ctx = chart.ctx;
		const a = chart.chartArea;

		// full box frame
		ctx.save();
		ctx.strokeStyle = '#000';
		ctx.lineWidth = 2;
		ctx.strokeRect( a.left, a.top, a.right - a.left, a.bottom - a.top );
		ctx.restore();

		// axis titles
		ctx.save();
		ctx.fillStyle = '#000';
		ctx.textBaseline = 'alphabetic';
		ctx.textAlign = 'left';
		ctx.translate( ( a.left + a.right ) / 2 + 3, 917 );
		drawRich( ctx, [
			{ t: 'Stellar Mass [' },
			{ t: 'M', it: true },
			{ t: '\u2009\u2299', s: 0.72, dy: 0.22 },
			{ t: '\u2009]' },
		], 47 );
		ctx.restore();

		ctx.save();
		ctx.fillStyle = '#000';
		ctx.textBaseline = 'alphabetic';
		ctx.translate( 44, ( a.top + a.bottom ) / 2 + 6 );
		ctx.rotate( -Math.PI / 2 );
		drawRich( ctx, [
			{ t: 'log' },
			{ t: '10', s: 0.7, dy: 0.22 },
			{ t: '\u2009(' },
			{ t: 'F', it: true },
			{ t: 'XUV,\u2009HZ', s: 0.7, dy: 0.22 },
			{ t: ') [erg/cm' },
			{ t: '2', s: 0.7, dy: -0.4 },
			{ t: '/s]' },
		], 48 );
		ctx.restore();

		// legend
		const box = { x: 956, y: 15, w: 228, h: 84 };
		ctx.save();
		ctx.beginPath();
		ctx.roundRect( box.x, box.y, box.w, box.h, 4 );
		ctx.fillStyle = 'rgba(255,255,255,0.8)';
		ctx.fill();
		ctx.strokeStyle = '#d6d6d6';
		ctx.lineWidth = 1.5;
		ctx.stroke();
		ctx.drawImage( starImg, 992 - starImg.width / 2, 35 - starImg.height / 2 );
		ctx.drawImage( triImg, 992 - triImg.width / 2, 74 - triImg.height / 2 );
		ctx.fillStyle = '#000';
		ctx.font = '26px ' + FONT;
		ctx.textBaseline = 'middle';
		ctx.textAlign = 'left';
		ctx.fillText( seriesLabels[ 0 ], 1039, 37 );
		ctx.fillText( seriesLabels[ 1 ], 1039, 75 );
		ctx.restore();
	},
};

// ── Chart ────────────────────────────────────────────────────────────

const tickFont = { family: FONT, size: 43 };

new Chart( document.getElementById( 'chart' ).getContext( '2d' ), {
	type: 'scatter',
	data: {
		datasets: [
			{
				// image markers carry their own size; a tiny radius keeps
				// the layout from reserving room for a big point
				label: seriesLabels[ 0 ],
				data: [ toPoint( sunPoint ) ],
				pointStyle: starImg,
				pointRadius: 0.5,
				borderWidth: 0,
				order: 0,
			},
			{
				label: seriesLabels[ 1 ],
				data: [ toPoint( youngSunPoint ) ],
				pointStyle: triImg,
				pointRadius: 0.5,
				borderWidth: 0,
				order: 1,
			},
			{
				label: 'stars',
				data: haloStars.concat( coreStars, coreInfill, flankStars ).map( toPoint ),
				pointStyle: 'rect',
				pointRadius: 2.9,
				backgroundColor: 'rgba(0,0,0,0.66)',
				borderWidth: 0,
				order: 2,
			},
		],
	},
	options: {
		responsive: false,
		animation: false,
		devicePixelRatio: 1,
		events: [],
		layout: { padding: { left: 0, right: 15, top: 2, bottom: 0 } },
		plugins: {
			legend: { display: false },
			tooltip: { enabled: false },
		},
		scales: {
			x: {
				type: 'logarithmic',
				min: 0.452,
				max: 4.37,
				afterBuildTicks: function ( axis ) {
					axis.ticks = xTickValues.map( function ( v ) { return { value: v }; } );
				},
				afterFit: function ( axis ) {
					axis.height = 115;
					axis.paddingLeft = 0;
					axis.paddingRight = 0;
				},
				ticks: {
					autoSkip: false,
					maxRotation: 0,
					padding: 6,
					color: '#000',
					font: tickFont,
					callback: function ( v ) { return Number( v ).toFixed( 1 ); },
				},
				grid: { drawOnChartArea: false, drawTicks: true, tickLength: 9, color: '#000', lineWidth: 2 },
				border: { display: true, color: '#000', width: 2 },
			},
			y: {
				type: 'linear',
				min: -1.34,
				max: 5.61,
				afterBuildTicks: function ( axis ) {
					axis.ticks = yTickValues.map( function ( v ) { return { value: v }; } );
				},
				afterFit: function ( axis ) {
					axis.width = 148;
					axis.paddingTop = 0;
					axis.paddingBottom = 0;
				},
				ticks: {
					autoSkip: false,
					padding: 9,
					color: '#000',
					font: tickFont,
					callback: function ( v ) { return v < 0 ? '\u2212' + Math.abs( v ) : String( v ); },
				},
				grid: { drawOnChartArea: false, drawTicks: true, tickLength: 9, color: '#000', lineWidth: 2 },
				border: { display: true, color: '#000', width: 2 },
			},
		},
	},
	plugins: [ decorPlugin ],
} );
</script>
</body>
</html>
